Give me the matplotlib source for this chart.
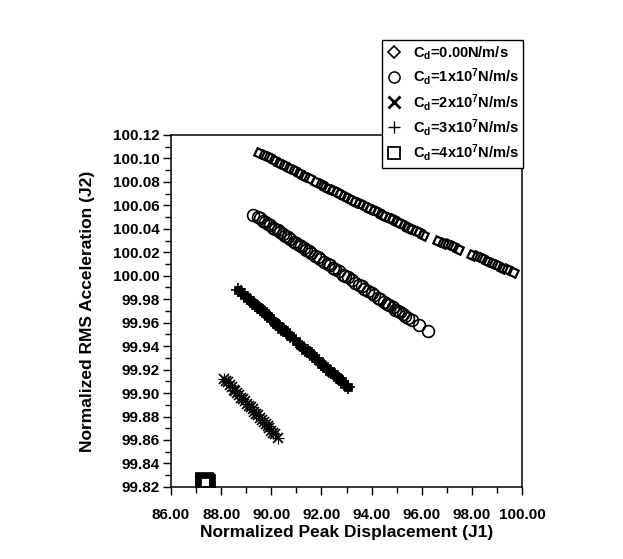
import numpy as np
import matplotlib
matplotlib.use("Agg")
import matplotlib.pyplot as plt
from matplotlib.lines import Line2D

plt.rcParams['font.family'] = ['Liberation Sans', 'DejaVu Sans']
plt.rcParams['font.weight'] = 'bold'
plt.rcParams['mathtext.fontset'] = 'custom'
plt.rcParams['mathtext.rm'] = 'Liberation Sans:bold'
plt.rcParams['mathtext.it'] = 'Liberation Sans:bold'
plt.rcParams['mathtext.bf'] = 'Liberation Sans:bold'

# Cd = 0
j1_0 = [89.50, 89.70, 89.90, 90.10, 90.30, 90.50, 90.70, 90.90, 91.10, 91.30,
        91.50, 91.80, 92.00, 92.15, 92.30, 92.45, 92.60, 92.75, 92.90, 93.05,
        93.20, 93.35, 93.50, 93.65, 93.80, 93.95, 94.10, 94.25, 94.40, 94.55,
        94.70, 94.85, 95.00, 95.15, 95.30, 95.45, 95.60, 95.75, 95.90, 96.05,
        96.65, 96.85, 97.05, 97.25, 97.45, 98.00, 98.20, 98.40, 98.60, 98.80,
        99.00, 99.20, 99.40, 99.65]
j2_0 = [100.105, 100.103, 100.101, 100.099, 100.096, 100.094, 100.092, 100.090,
        100.088, 100.085, 100.083, 100.080, 100.078, 100.076, 100.074, 100.073,
        100.071, 100.070, 100.068, 100.066, 100.065, 100.063, 100.062, 100.060,
        100.059, 100.057, 100.056, 100.054, 100.052, 100.051, 100.049, 100.048,
        100.046, 100.045, 100.043, 100.041, 100.040, 100.038, 100.037, 100.035,
        100.030, 100.028, 100.027, 100.025, 100.023, 100.018, 100.017, 100.015,
        100.013, 100.011, 100.009, 100.007, 100.006, 100.003]

# Cd = 1e7
j1_1 = [89.28, 89.45, 89.55, 89.65, 89.75, 89.85, 89.95, 90.05, 90.15, 90.25,
        90.35, 90.45, 90.55, 90.65, 90.75, 90.90, 91.00, 91.10, 91.20, 91.30,
        91.40, 91.50, 91.60, 91.75, 91.85, 91.95, 92.10, 92.25, 92.35, 92.45,
        92.55, 92.70, 92.85, 92.95, 93.05, 93.20, 93.35, 93.50, 93.60, 93.70,
        93.85, 94.00, 94.10, 94.25, 94.35, 94.50, 94.60, 94.70, 94.85, 94.95,
        95.05, 95.15, 95.25, 95.35, 95.45, 95.60, 95.90, 96.25]
j2_1 = [100.052, 100.050, 100.049, 100.047, 100.046, 100.044, 100.043, 100.041,
        100.040, 100.039, 100.037, 100.036, 100.034, 100.033, 100.031, 100.029,
        100.028, 100.026, 100.025, 100.024, 100.022, 100.021, 100.019, 100.017,
        100.016, 100.014, 100.012, 100.010, 100.009, 100.007, 100.006, 100.004,
        100.001, 100.000, 99.999, 99.996, 99.994, 99.992, 99.991, 99.989,
        99.987, 99.985, 99.984, 99.981, 99.980, 99.978, 99.976, 99.975,
        99.973, 99.971, 99.970, 99.969, 99.967, 99.966, 99.964, 99.962,
        99.958, 99.953]

# Cd = 2e7
j1_2 = [88.68, 88.80, 88.90, 89.05, 89.15, 89.25, 89.35, 89.45, 89.55, 89.65,
        89.75, 89.85, 89.95, 90.10, 90.20, 90.30, 90.40, 90.50, 90.60, 90.75,
        91.00, 91.15, 91.35, 91.45, 91.55, 91.65, 91.75, 91.90, 92.00, 92.10,
        92.20, 92.30, 92.40, 92.50, 92.60, 92.70, 92.80, 92.90, 93.05]
j2_2 = [99.988, 99.986, 99.984, 99.981, 99.979, 99.977, 99.975, 99.973, 99.972,
        99.970, 99.968, 99.966, 99.964, 99.961, 99.959, 99.957, 99.955, 99.954,
        99.952, 99.949, 99.944, 99.941, 99.937, 99.936, 99.934, 99.932, 99.930,
        99.927, 99.925, 99.923, 99.921, 99.919, 99.918, 99.916, 99.914, 99.912,
        99.910, 99.908, 99.905]

# Cd = 3e7
j1_3 = [88.12, 88.20, 88.27, 88.35, 88.42, 88.50, 88.57, 88.65, 88.72, 88.80,
        88.87, 88.95, 89.02, 89.10, 89.17, 89.25, 89.32, 89.40, 89.47, 89.55,
        89.62, 89.70, 89.77, 89.85, 89.92, 90.00, 90.08, 90.15, 90.28]
j2_3 = [99.912, 99.910, 99.909, 99.907, 99.905, 99.903, 99.902, 99.900, 99.898,
        99.896, 99.895, 99.893, 99.891, 99.889, 99.888, 99.886, 99.884, 99.882,
        99.881, 99.879, 99.877, 99.875, 99.874, 99.872, 99.870, 99.868, 99.866,
        99.865, 99.862]

# Cd = 4e7
j1_4 = [87.30, 87.33, 87.36, 87.40]
j2_4 = [99.825, 99.824, 99.824, 99.823]

labels = [r'C$_{\mathrm{d}}$=0.00N/m/s',
          r'C$_{\mathrm{d}}$=1x10$^{\mathrm{7}}$N/m/s',
          r'C$_{\mathrm{d}}$=2x10$^{\mathrm{7}}$N/m/s',
          r'C$_{\mathrm{d}}$=3x10$^{\mathrm{7}}$N/m/s',
          r'C$_{\mathrm{d}}$=4x10$^{\mathrm{7}}$N/m/s']

fig = plt.figure(figsize=(6.23, 5.59), dpi=100)
ax = fig.add_axes([0.2745, 0.129, 0.5635, 0.6295])

ax.plot(j1_0, j2_0, ls='none', marker=(4, 0, 20), ms=8, mfc='none', mec='k', mew=1.6)
ax.plot(j1_1, j2_1, ls='none', marker='o', ms=8.5, mfc='none', mec='k', mew=1.2)
ax.plot(j1_2, j2_2, ls='none', marker='s', ms=5.5, mfc='k', mec='k', mew=0.5)
ax.plot(j1_2, j2_2, ls='none', marker='+', ms=10, mec='k', mew=1.2)
ax.plot(j1_3, j2_3, ls='none', marker='x', ms=7, mec='k', mew=1.2)
ax.plot(j1_3, j2_3, ls='none', marker='+', ms=9, mec='k', mew=0.9)
ax.plot(j1_4, j2_4, ls='none', marker='s', ms=9.5, mfc='none', mec='k', mew=3.4)

ax.set_xlim(86, 100)
ax.set_ylim(99.82, 100.12)
ax.set_xticks(np.arange(86, 100.01, 2))
ax.set_xticks(np.arange(86, 100.01, 1), minor=True)
ax.set_yticks(np.arange(99.82, 100.121, 0.02))
ax.set_yticks(np.arange(99.82, 100.121, 0.01), minor=True)
ax.xaxis.set_major_formatter(matplotlib.ticker.FormatStrFormatter('%.2f'))
ax.yaxis.set_major_formatter(matplotlib.ticker.FormatStrFormatter('%.2f'))
ax.tick_params(which='major', direction='out', length=6, width=1, labelsize=11, pad=2)
ax.tick_params(which='minor', direction='out', length=4, width=1)
ax.tick_params(axis='x', which='major', pad=9)
for lab in ax.get_xticklabels() + ax.get_yticklabels():
    lab.set_fontweight('bold')
for sp in ax.spines.values():
    sp.set_linewidth(1.1)

ax.set_xlabel('Normalized Peak Displacement (J1)', fontsize=12.5, fontweight='bold', labelpad=2)
ax.set_ylabel('Normalized RMS Acceleration (J2)', fontsize=12.5, fontweight='bold', labelpad=13)

handles = [
    Line2D([], [], ls='none', marker='D', ms=6, mfc='none', mec='k', mew=1.2),
    Line2D([], [], ls='none', marker='o', ms=8, mfc='none', mec='k', mew=1.1),
    Line2D([], [], ls='none', marker='x', ms=8, mec='k', mew=2.0),
    Line2D([], [], ls='none', marker='+', ms=9, mec='k', mew=1.0),
    Line2D([], [], ls='none', marker='s', ms=8, mfc='none', mec='k', mew=1.3),
]
leg = ax.legend(handles, labels, loc='upper right', bbox_to_anchor=(1.003, 1.27),
                borderaxespad=0, frameon=True, fancybox=False, edgecolor='k',
                framealpha=1, prop={'size': 10.5, 'weight': 'bold'},
                handlelength=1.0, handletextpad=0.8, labelspacing=0.3,
                borderpad=0.3)
leg.get_frame().set_linewidth(1.0)

fig.savefig('out.png', dpi=100)
